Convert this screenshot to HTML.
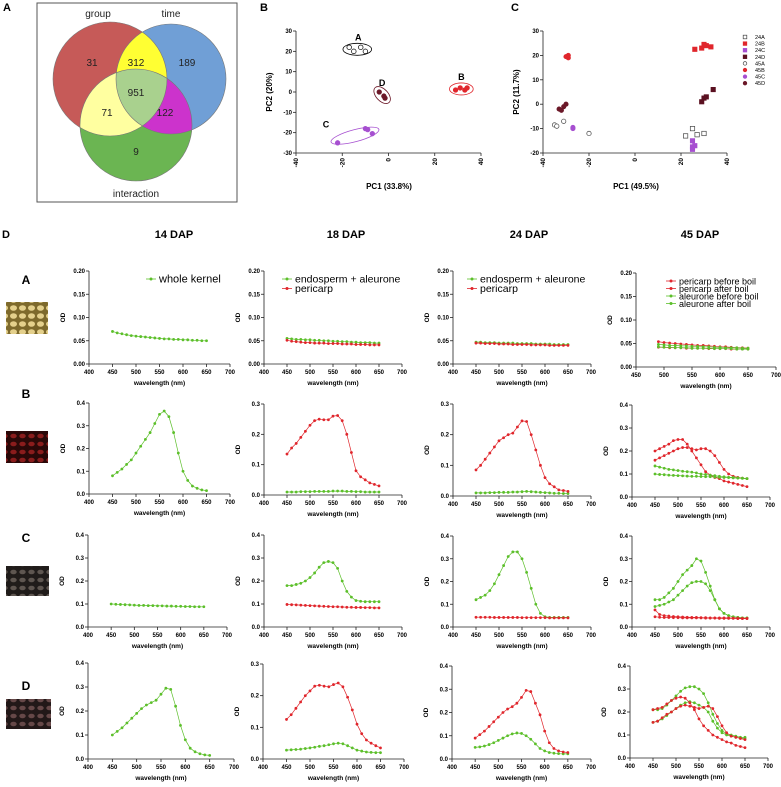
<!DOCTYPE html>
<html><head><meta charset="utf-8"><style>
html,body{margin:0;padding:0;background:#fff;}
svg{display:block;font-family:"Liberation Sans",sans-serif;}
</style></head><body>
<svg id="fig" width="781" height="787" viewBox="0 0 781 787" xmlns="http://www.w3.org/2000/svg">
<defs>
<clipPath id="cR"><circle cx="110" cy="79" r="57"/></clipPath>
<clipPath id="cB"><circle cx="171" cy="79" r="55"/></clipPath>
<clipPath id="cG"><circle cx="136" cy="125" r="56"/></clipPath>
<pattern id="patA" width="9" height="8" patternUnits="userSpaceOnUse"><rect width="9" height="8" fill="#7e6a2c"/><ellipse cx="4.5" cy="4" rx="3.5" ry="2.8" fill="#e4d08c"/></pattern>
<pattern id="patB" width="9" height="8" patternUnits="userSpaceOnUse"><rect width="9" height="8" fill="#2a0808"/><ellipse cx="4.5" cy="4" rx="3.2" ry="2.3" fill="#8a1c1c"/></pattern>
<pattern id="patC" width="9" height="8" patternUnits="userSpaceOnUse"><rect width="9" height="8" fill="#201c1a"/><ellipse cx="4.5" cy="4" rx="3.2" ry="2.3" fill="#5e5650"/></pattern>
<pattern id="patD" width="9" height="8" patternUnits="userSpaceOnUse"><rect width="9" height="8" fill="#221818"/><ellipse cx="4.5" cy="4" rx="3.2" ry="2.3" fill="#664848"/></pattern>
</defs>
<g>
<rect x="37" y="3" width="200" height="199" fill="none" stroke="#555" stroke-width="1"/>
<circle cx="110" cy="79" r="57" fill="#c65a58"/>
<circle cx="171" cy="79" r="55" fill="#709fd6"/>
<circle cx="136" cy="125" r="56" fill="#6bb552"/>
<g clip-path="url(#cR)"><circle cx="171" cy="79" r="55" fill="#ffff33"/><circle cx="136" cy="125" r="56" fill="#ffffa0"/></g>
<g clip-path="url(#cB)"><circle cx="136" cy="125" r="56" fill="#cc33cc"/></g>
<g clip-path="url(#cR)"><g clip-path="url(#cB)"><circle cx="136" cy="125" r="56" fill="#a9d18e"/></g></g>
<circle cx="110" cy="79" r="57" fill="none" stroke="#777" stroke-width="0.6"/>
<circle cx="171" cy="79" r="55" fill="none" stroke="#777" stroke-width="0.6"/>
<circle cx="136" cy="125" r="56" fill="none" stroke="#777" stroke-width="0.6"/>
<g font-size="10" fill="#222" text-anchor="middle">
<text x="98" y="17">group</text>
<text x="171" y="17">time</text>
<text x="136" y="197">interaction</text>
<text x="92" y="66">31</text>
<text x="136" y="66">312</text>
<text x="187" y="66">189</text>
<text x="136" y="96">951</text>
<text x="107" y="116">71</text>
<text x="165" y="116">122</text>
<text x="136" y="155">9</text>
</g>
</g>
<g font-weight="bold" font-size="11">
<text x="3" y="11">A</text>
<text x="260" y="11">B</text>
<text x="511" y="11">C</text>
<text x="2" y="238">D</text>
</g>
<g font-weight="bold" font-size="11" text-anchor="middle">
<text x="174" y="238">14 DAP</text>
<text x="346" y="238">18 DAP</text>
<text x="529" y="238">24 DAP</text>
<text x="700" y="238">45 DAP</text>
</g>
<g font-weight="bold" font-size="12" text-anchor="middle">
<text x="26" y="284">A</text>
<text x="26" y="398">B</text>
<text x="26" y="542">C</text>
<text x="26" y="690">D</text>
</g>
<rect x="6" y="302" width="42" height="32" fill="url(#patA)"/>
<rect x="6" y="431" width="42" height="32" fill="url(#patB)"/>
<rect x="6" y="566" width="43" height="30" fill="url(#patC)"/>
<rect x="6" y="699" width="45" height="30" fill="url(#patD)"/>
</svg>
<script>
const pcaB_A_x=[-17,-15,-12,-10]; const pcaB_A_y=[22,20,22,20];
const pcaB_D_x=[-4,-2,-1.5]; const pcaB_D_y=[0,-2,-3];
const pcaB_B_x=[29,31,33,34]; const pcaB_B_y=[1,2,1,2];
const pcaB_C_x=[-22,-10,-9,-7]; const pcaB_C_y=[-25,-18,-18.5,-20.5];
const pcaC_labels=["24A","24B","24C","24D","45A","45B","45C","45D"];
const pcaC_24A_x=[25,22,27,30]; const pcaC_24A_y=[-10,-13,-12.5,-12];
const pcaC_24B_x=[26,29,31,33,30]; const pcaC_24B_y=[22.5,23,24,23.5,24.5];
const pcaC_24C_x=[25,25,26,25]; const pcaC_24C_y=[-15,-17.5,-17,-18.5];
const pcaC_24D_x=[29,30,31,34]; const pcaC_24D_y=[1,2.5,3,6];
const pcaC_45A_x=[-35,-34,-31,-20]; const pcaC_45A_y=[-8.5,-9,-7,-12];
const pcaC_45B_x=[-30,-29,-29]; const pcaC_45B_y=[19.5,19,20];
const pcaC_45C_x=[-27,-27]; const pcaC_45C_y=[-9.5,-10];
const pcaC_45D_x=[-33,-31,-30,-32]; const pcaC_45D_y=[-2,-1,0,-2.5];
const wl=[450,460,470,480,490,500,510,520,530,540,550,560,570,580,590,600,610,620,630,640,650];
const wl45A=[490,500,510,520,530,540,550,560,570,580,590,600,610,620,630,640,650];
const A14_whole=[.070,.067,.065,.063,.061,.060,.059,.058,.057,.056,.055,.054,.054,.053,.053,.052,.052,.051,.051,.050,.050];
const A18_endo=[.055,.054,.053,.053,.052,.052,.051,.051,.050,.050,.049,.049,.048,.048,.047,.047,.046,.046,.046,.045,.045];
const A18_peri=[.051,.049,.048,.047,.046,.046,.045,.045,.045,.044,.044,.044,.043,.043,.043,.042,.042,.042,.041,.041,.041];
const A24_endo=[.047,.047,.046,.046,.046,.045,.045,.045,.045,.044,.044,.044,.044,.043,.043,.043,.043,.042,.042,.042,.042];
const A24_peri=[.045,.045,.044,.044,.044,.043,.043,.043,.042,.042,.042,.042,.041,.041,.041,.041,.040,.040,.040,.040,.040];
const A45_periBefore=[.054,.052,.051,.050,.049,.048,.047,.046,.046,.045,.044,.043,.043,.042,.041,.041,.040];
const A45_periAfter=[.042,.042,.041,.041,.041,.040,.040,.040,.040,.039,.039,.039,.039,.038,.038,.038,.038];
const A45_aleBefore=[.048,.047,.046,.046,.045,.045,.044,.044,.043,.043,.042,.042,.041,.041,.041,.040,.040];
const A45_aleAfter=[.043,.042,.042,.041,.041,.041,.040,.040,.040,.040,.039,.039,.039,.039,.038,.038,.038];
const B14_whole=[.08,.095,.11,.13,.15,.18,.21,.24,.27,.31,.35,.365,.34,.27,.18,.10,.06,.035,.025,.018,.015];
const B18_endo=[.010,.010,.010,.011,.011,.011,.012,.012,.012,.012,.013,.013,.013,.012,.012,.011,.011,.010,.010,.010,.010];
const B18_peri=[.135,.155,.17,.19,.21,.23,.245,.25,.248,.248,.26,.262,.245,.20,.14,.08,.06,.05,.04,.035,.03];
const B24_endo=[.010,.010,.010,.011,.011,.012,.012,.012,.013,.013,.014,.015,.014,.013,.012,.011,.010,.009,.009,.008,.008];
const B24_peri=[.085,.10,.12,.14,.16,.18,.19,.20,.205,.225,.245,.243,.20,.15,.10,.06,.04,.03,.02,.018,.015];
const B45_periBefore=[.20,.21,.22,.23,.245,.25,.25,.23,.20,.17,.14,.11,.095,.085,.08,.07,.065,.06,.055,.05,.045];
const B45_periAfter=[.16,.17,.18,.19,.20,.21,.215,.215,.21,.205,.21,.21,.20,.18,.15,.12,.10,.09,.085,.082,.08];
const B45_aleBefore=[.135,.13,.125,.12,.118,.115,.112,.11,.108,.105,.10,.098,.095,.093,.09,.088,.086,.085,.083,.082,.08];
const B45_aleAfter=[.10,.098,.097,.095,.094,.093,.092,.091,.09,.09,.089,.088,.088,.087,.086,.085,.084,.083,.082,.081,.08];
const C14_whole=[.100,.099,.098,.097,.096,.095,.094,.094,.093,.093,.092,.092,.091,.091,.090,.090,.089,.089,.088,.088,.088];
const C18_endo=[.18,.18,.185,.19,.20,.215,.235,.26,.28,.285,.28,.255,.20,.155,.13,.115,.112,.11,.11,.11,.11];
const C18_peri=[.098,.097,.096,.095,.094,.093,.092,.091,.090,.089,.088,.088,.087,.086,.086,.085,.085,.084,.084,.083,.083];
const C24_endo=[.12,.13,.14,.16,.19,.23,.27,.31,.33,.33,.30,.24,.17,.10,.06,.045,.042,.042,.042,.042,.042];
const C24_peri=[.043,.043,.043,.043,.042,.042,.042,.042,.042,.042,.041,.041,.041,.041,.041,.041,.040,.040,.040,.040,.040];
const C45_aleBefore=[.12,.12,.13,.15,.17,.20,.23,.25,.27,.30,.29,.24,.18,.12,.08,.06,.05,.045,.042,.04,.04];
const C45_aleAfter=[.09,.095,.10,.11,.12,.14,.16,.18,.195,.20,.20,.19,.16,.12,.08,.06,.05,.045,.042,.04,.04];
const C45_periBefore=[.075,.055,.05,.048,.046,.045,.044,.043,.042,.042,.041,.041,.04,.04,.04,.04,.04,.039,.039,.038,.038];
const C45_periAfter=[.045,.043,.042,.042,.041,.041,.04,.04,.04,.04,.04,.039,.039,.039,.038,.038,.038,.038,.037,.037,.037];
const D14_whole=[.10,.115,.13,.15,.17,.19,.21,.225,.235,.245,.27,.295,.29,.22,.14,.08,.045,.03,.022,.017,.015];
const D18_endo=[.028,.029,.03,.031,.033,.035,.037,.04,.042,.045,.048,.05,.048,.042,.035,.028,.025,.022,.021,.02,.02];
const D18_peri=[.125,.14,.16,.18,.20,.215,.23,.233,.23,.228,.235,.24,.228,.195,.155,.11,.08,.06,.05,.042,.035];
const D24_endo=[.05,.052,.056,.062,.07,.08,.09,.10,.108,.112,.11,.10,.085,.065,.045,.035,.028,.025,.023,.022,.022];
const D24_peri=[.09,.105,.12,.14,.16,.18,.20,.215,.225,.24,.265,.295,.29,.24,.19,.12,.07,.045,.035,.03,.028];
const D45_aleBefore=[.21,.21,.215,.23,.25,.27,.29,.305,.31,.31,.30,.28,.24,.19,.15,.12,.105,.10,.095,.09,.09];
const D45_aleAfter=[.155,.16,.17,.185,.20,.215,.23,.24,.245,.24,.23,.22,.20,.16,.13,.11,.10,.095,.09,.088,.085];
const D45_periBefore=[.21,.215,.22,.235,.25,.26,.265,.26,.24,.21,.17,.14,.12,.10,.09,.08,.07,.065,.055,.05,.045];
const D45_periAfter=[.155,.16,.175,.19,.20,.215,.225,.23,.225,.22,.215,.22,.225,.215,.18,.14,.11,.095,.09,.085,.08];
const xTicksFull=[400,450,500,550,600,650,700];
const xTicks45A=[450,500,550,600,650,700];
const yTicksA=[0,0.05,0.10,0.15,0.20];
const yTicks4=[0,0.1,0.2,0.3,0.4];
const yTicks3=[0,0.1,0.2,0.3];
const pcaTicksX=[-40,-20,0,20,40];
const pcaTicksYB=[-30,-20,-10,0,10,20,30];
const pcaTicksYC=[-20,-10,0,10,20,30];

const NS="http://www.w3.org/2000/svg";
const svg=document.getElementById('fig');
function mk(tag,attrs,parent){const e=document.createElementNS(NS,tag);for(const k in attrs)e.setAttribute(k,attrs[k]);(parent||svg).appendChild(e);return e;}
const GREEN="#5cbf2a", RED="#e0262c";

function axes(g,xs,ys,xTicks,yTicks,dec,px0,px1,py0,py1,rotX){
  const line=mk('path',{d:`M${px0},${py0} V${py1} H${px1}`,fill:'none',stroke:'#222','stroke-width':0.8},g);
  
  
  yTicks.forEach(v=>{const y=ys(v);
    mk('line',{x1:px0-3,x2:px0,y1:y,y2:y,stroke:'#222','stroke-width':0.8},g);
    const t=mk('text',{x:px0-4,y:y+2,'font-size':6,'font-weight':'bold','text-anchor':'end'},g);
    t.textContent=v.toFixed(dec);
    
    });
  xTicks.forEach(v=>{const x=xs(v);
    mk('line',{x1:x,x2:x,y1:py1,y2:py1+3,stroke:'#222','stroke-width':0.8},g);
    let t;
    if(rotX){t=mk('text',{x:0,y:0,'font-size':6.5,'font-weight':'bold','text-anchor':'end',transform:`translate(${x+2},${py1+5}) rotate(-90)`},g);}
    else t=mk('text',{x:x,y:py1+10,'font-size':6,'font-weight':'bold','text-anchor':'middle'},g);
    t.textContent=v;
    
    });
}

(function(){
  const g=mk('g',{});
  
  
  const px0=296,px1=481,py0=31,py1=153;
  const xs=v=>px0+(v+40)/80*(px1-px0), ys=v=>py1-(v+30)/60*(py1-py0);
  axes(g,xs,ys,pcaTicksX,pcaTicksYB,0,px0,px1,py0,py1,true);
  const groups=[[pcaB_A_x,pcaB_A_y,'#000','none','A'],[pcaB_D_x,pcaB_D_y,'#6b1828','#6b1828','D'],[pcaB_B_x,pcaB_B_y,'#e0262c','#e0262c','B'],[pcaB_C_x,pcaB_C_y,'#a64fd0','#a64fd0','C']];
  groups.forEach(([gx,gy,st,fi,lab])=>{
    const cx=gx.map(xs), cy=gy.map(ys);
    const mx=(Math.min(...cx)+Math.max(...cx))/2, my=(Math.min(...cy)+Math.max(...cy))/2;
    const dx=Math.max(...cx)-Math.min(...cx), dy=Math.max(...cy)-Math.min(...cy);
    const ang=Math.atan2(cy[cy.length-1]-cy[0],cx[cx.length-1]-cx[0])*180/Math.PI;
    const len=Math.hypot(dx,dy);
    const e=mk('ellipse',{cx:mx,cy:my,rx:len/2+6,ry:6,fill:'none',stroke:st,'stroke-width':0.8,transform:`rotate(${lab==='A'||lab==='B'?0:ang} ${mx} ${my})`},g);
    
    
    gx.forEach((v,i)=>{const c=mk('circle',{cx:xs(v),cy:ys(gy[i]),r:2.3,fill:fi,stroke:st,'stroke-width':0.7},g);
      
      });
    const t=mk('text',{x:mx+(lab==='C'?-29:lab==='A'?1:0),y:my+(lab==='C'?-8:-9),'font-size':9,'font-weight':'bold','text-anchor':'middle'},g);
    t.textContent=lab;
    
    
  });
  let t=mk('text',{x:389,y:189,'font-size':8,'font-weight':'bold','text-anchor':'middle'},g);t.textContent='PC1 (33.8%)';
  
  t=mk('text',{x:0,y:0,'font-size':8,'font-weight':'bold','text-anchor':'middle',transform:'translate(272,92) rotate(-90)'},g);t.textContent='PC2 (20%)';
  
})();

(function(){
  const g=mk('g',{});
  
  
  const px0=543,px1=727,py0=31,py1=153;
  const xs=v=>px0+(v+40)/80*(px1-px0), ys=v=>py1-(v+20)/50*(py1-py0);
  axes(g,xs,ys,pcaTicksX,pcaTicksYC,0,px0,px1,py0,py1,true);
  const sets=[[pcaC_24A_x,pcaC_24A_y,'#444','#fff','sq'],[pcaC_24B_x,pcaC_24B_y,'#e0262c','#e0262c','sq'],[pcaC_24C_x,pcaC_24C_y,'#a64fd0','#a64fd0','sq'],[pcaC_24D_x,pcaC_24D_y,'#5a1020','#5a1020','sq'],
    [pcaC_45A_x,pcaC_45A_y,'#444','#fff','ci'],[pcaC_45B_x,pcaC_45B_y,'#e0262c','#e0262c','ci'],[pcaC_45C_x,pcaC_45C_y,'#a64fd0','#a64fd0','ci'],[pcaC_45D_x,pcaC_45D_y,'#6b1828','#6b1828','ci']];
  sets.forEach(([gx,gy,st,fi,sh],k)=>{
    const draw=(x,y,r)=>sh==='sq'?mk('rect',{x:x-r,y:y-r,width:2*r,height:2*r,fill:fi,stroke:st,'stroke-width':0.7},g):mk('circle',{cx:x,cy:y,r:r,fill:fi,stroke:st,'stroke-width':0.7},g);
    gx.forEach((v,i)=>{const e=draw(xs(v),ys(gy[i]),2.2);
      
      });
    const ly=37+k*6.6;
    const m=draw(745,ly,1.8);
    
    
    const t=mk('text',{x:755,y:ly+2,'font-size':5.5},g);t.textContent=pcaC_labels[k];
    
    
  });
  let t=mk('text',{x:636,y:189,'font-size':8,'font-weight':'bold','text-anchor':'middle'},g);t.textContent='PC1 (49.5%)';
  
  t=mk('text',{x:0,y:0,'font-size':8,'font-weight':'bold','text-anchor':'middle',transform:'translate(519,92) rotate(-90)'},g);t.textContent='PC2 (11.7%)';
  
})();

function spectrum(name,px0,px1,py0,py1,xmin,xTicks,yTicks,dec,series,legend){
  const g=mk('g',{});
  
  
  const ymax=yTicks[yTicks.length-1];
  const xs=v=>px0+(v-xmin)/(700-xmin)*(px1-px0), ys=v=>py1-v/ymax*(py1-py0);
  axes(g,xs,ys,xTicks,yTicks,dec,px0,px1,py0,py1,false);
  series.forEach(s=>{
    const d=s.x.map((v,i)=>(i?'L':'M')+xs(v).toFixed(1)+','+ys(s.y[i]).toFixed(1)).join(' ');
    const p=mk('path',{d:d,fill:'none',stroke:s.c,'stroke-width':0.7},g);
    
    
    s.x.forEach((v,i)=>{const c=mk('circle',{cx:xs(v),cy:ys(s.y[i]),r:1.4,fill:s.c},g);
      
      });
  });
  let t=mk('text',{x:(px0+px1)/2,y:py1+21,'font-size':6.5,'font-weight':'bold','text-anchor':'middle'},g);t.textContent='wavelength (nm)';
  
  t=mk('text',{x:0,y:0,'font-size':6.5,'font-weight':'bold','text-anchor':'middle',transform:`translate(${px0-24},${(py0+py1)/2}) rotate(-90)`},g);t.textContent='OD';
  
  if(legend){legend.items.forEach((it,i)=>{
    const y=legend.y+i*legend.dy;
    mk('line',{x1:legend.x-5,x2:legend.x+5,y1:y,y2:y,stroke:it[1],'stroke-width':0.8},g);
    const m=mk('circle',{cx:legend.x,cy:y,r:1.5,fill:it[1]},g);
    
    const tt=mk('text',{x:legend.x+8,y:y+3.5,'font-size':legend.fs},g);tt.textContent=it[0];
    
  });}
}
const X=[89,264,453,632], W=[141,138,138,138];
const L2={x:287,y:279,dy:9.5,fs:10.5,items:[["endosperm + aleurone",GREEN],["pericarp",RED]]};
spectrum('spectrum-a-14dap',X[0],X[0]+W[0],271,364,400,xTicksFull,yTicksA,2,[{x:wl,y:A14_whole,c:GREEN}],{x:151,y:279,dy:10,fs:11,items:[["whole kernel",GREEN]]});
spectrum('spectrum-a-18dap',X[1],X[1]+W[1],271,364,400,xTicksFull,yTicksA,2,[{x:wl,y:A18_endo,c:GREEN},{x:wl,y:A18_peri,c:RED}],L2);
spectrum('spectrum-a-24dap',X[2],X[2]+W[2],271,364,400,xTicksFull,yTicksA,2,[{x:wl,y:A24_endo,c:GREEN},{x:wl,y:A24_peri,c:RED}],{...L2,x:472});
spectrum('spectrum-a-45dap',636,776,273,367,450,xTicks45A,yTicksA,2,[{x:wl45A,y:A45_periBefore,c:RED},{x:wl45A,y:A45_periAfter,c:RED},{x:wl45A,y:A45_aleBefore,c:GREEN},{x:wl45A,y:A45_aleAfter,c:GREEN}],
 {x:671,y:281,dy:7.5,fs:9,items:[["pericarp before boil",RED],["pericarp after boil",RED],["aleurone before boil",GREEN],["aleurone after boil",GREEN]]});
spectrum('spectrum-b-14dap',X[0],X[0]+W[0],403,494,400,xTicksFull,yTicks4,1,[{x:wl,y:B14_whole,c:GREEN}]);
spectrum('spectrum-b-18dap',X[1],X[1]+W[1],404,495,400,xTicksFull,yTicks3,1,[{x:wl,y:B18_endo,c:GREEN},{x:wl,y:B18_peri,c:RED}]);
spectrum('spectrum-b-24dap',X[2],X[2]+W[2],404,496,400,xTicksFull,yTicks3,1,[{x:wl,y:B24_endo,c:GREEN},{x:wl,y:B24_peri,c:RED}]);
spectrum('spectrum-b-45dap',X[3],X[3]+W[3],405,497,400,xTicksFull,yTicks4,1,[{x:wl,y:B45_periBefore,c:RED},{x:wl,y:B45_periAfter,c:RED},{x:wl,y:B45_aleBefore,c:GREEN},{x:wl,y:B45_aleAfter,c:GREEN}]);
spectrum('spectrum-c-14dap',X[0]-1,X[0]+W[0]-3,535,627,400,xTicksFull,yTicks4,1,[{x:wl,y:C14_whole,c:GREEN}]);
spectrum('spectrum-c-18dap',X[1],X[1]+W[1],535,627,400,xTicksFull,yTicks4,1,[{x:wl,y:C18_endo,c:GREEN},{x:wl,y:C18_peri,c:RED}]);
spectrum('spectrum-c-24dap',X[2],X[2]+W[2],536,627,400,xTicksFull,yTicks4,1,[{x:wl,y:C24_endo,c:GREEN},{x:wl,y:C24_peri,c:RED}]);
spectrum('spectrum-c-45dap',X[3],X[3]+W[3],536,627,400,xTicksFull,yTicks4,1,[{x:wl,y:C45_aleBefore,c:GREEN},{x:wl,y:C45_aleAfter,c:GREEN},{x:wl,y:C45_periBefore,c:RED},{x:wl,y:C45_periAfter,c:RED}]);
spectrum('spectrum-d-14dap',X[0]-1,X[0]+W[0]+4,663,759,400,xTicksFull,yTicks4,1,[{x:wl,y:D14_whole,c:GREEN}]);
spectrum('spectrum-d-18dap',X[1]-1,X[1]+W[1]+2,664,759,400,xTicksFull,yTicks3,1,[{x:wl,y:D18_endo,c:GREEN},{x:wl,y:D18_peri,c:RED}]);
spectrum('spectrum-d-24dap',X[2]-1,X[2]+W[2],666,759,400,xTicksFull,yTicks4,1,[{x:wl,y:D24_endo,c:GREEN},{x:wl,y:D24_peri,c:RED}]);
spectrum('spectrum-d-45dap',X[3]-2,X[3]+W[3]-2,666,758,400,xTicksFull,yTicks4,1,[{x:wl,y:D45_aleBefore,c:GREEN},{x:wl,y:D45_aleAfter,c:GREEN},{x:wl,y:D45_periBefore,c:RED},{x:wl,y:D45_periAfter,c:RED}]);
</script>
</body></html>
